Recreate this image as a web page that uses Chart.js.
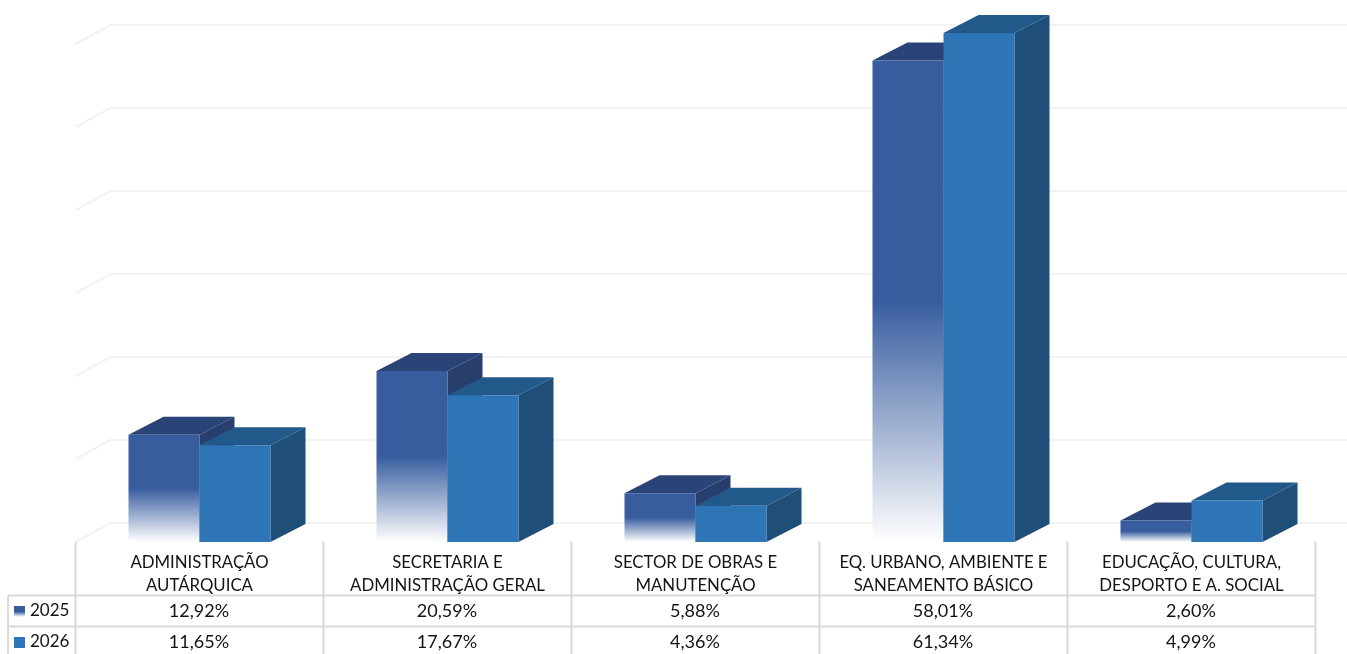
<!DOCTYPE html>
<html>
<head>
<meta charset="utf-8">
<title>Chart</title>
<script src="https://cdn.jsdelivr.net/npm/chart.js@4"></script>
<style>
    body { margin: 0; background: #fff; }
    canvas { display: block; }
</style>
</head>
<body>
<canvas id="budgetChart" width="1347" height="654"></canvas>
<script>
// Chart data
const categories = [
    ['ADMINISTRAÇÃO', 'AUTÁRQUICA'],
    ['SECRETARIA E', 'ADMINISTRAÇÃO GERAL'],
    ['SECTOR DE OBRAS E', 'MANUTENÇÃO'],
    ['EQ. URBANO, AMBIENTE E', 'SANEAMENTO BÁSICO'],
    ['EDUCAÇÃO, CULTURA,', 'DESPORTO E A. SOCIAL']
];
const values2025 = [12.92, 20.59, 5.88, 58.01, 2.60];
const values2026 = [11.65, 17.67, 4.36, 61.34, 4.99];
const seriesNames = ['2025', '2026'];

const FONT = 'Lato, "Noto Sans", sans-serif';
const TEXT_COLOR = '#141414';
const LINE_COLOR = '#d9d9d9';
const GRID_COLOR = '#f2f2f2';
const DEPTH_X = 35;  // 3D offset of the back plane
const DEPTH_Y = -18;
const GRID_DEPTH_Y = -19;
const FADE_START = 0.5;
const COLORS = [
    { front: '#385d9f', top: '#2b4478', side: '#283f6e' },
    { front: '#2e75b6', top: '#22598b', side: '#1f4e79' }
];

// 2025 bars fade out to white over the lower half
function fadeFill(context) {
    const chart = context.chart;
    if (!chart.chartArea || context.raw === undefined) return COLORS[0].front;
    const top = chart.scales.y.getPixelForValue(context.raw);
    const bottom = chart.scales.y.getPixelForValue(0);
    const gradient = chart.ctx.createLinearGradient(0, top, 0, bottom);
    gradient.addColorStop(0, COLORS[0].front);
    gradient.addColorStop(FADE_START, COLORS[0].front);
    gradient.addColorStop(1, '#ffffff');
    return gradient;
}

function polygon(ctx, points, color) {
    ctx.fillStyle = color;
    ctx.beginPath();
    points.forEach((p, i) => i ? ctx.lineTo(p[0], p[1]) : ctx.moveTo(p[0], p[1]));
    ctx.closePath();
    ctx.fill();
}

// Back wall gridlines with their short diagonals on the left side
const wallGrid = {
    id: 'wallGrid',
    beforeDatasetsDraw(chart) {
        const { ctx, scales: { y }, chartArea, width } = chart;
        ctx.save();
        ctx.strokeStyle = GRID_COLOR;
        ctx.lineWidth = 2;
        y.ticks.forEach(tick => {
            const py = y.getPixelForValue(tick.value);
            ctx.beginPath();
            ctx.moveTo(chartArea.left, py);
            ctx.lineTo(chartArea.left + DEPTH_X, py + GRID_DEPTH_Y);
            ctx.lineTo(width, py + GRID_DEPTH_Y);
            ctx.stroke();
        });
        ctx.restore();
    }
};

// Bars are painted series by series so 2026 sits in front of the 2025 side faces.
// Chart.js would paint the first dataset last, so its own pass is cancelled.
const barFaces = {
    id: 'barFaces',
    beforeDatasetDraw() {
        return false;
    },
    afterDatasetsDraw(chart) {
        const { ctx } = chart;
        seriesNames.forEach((name, index) => {
            const meta = chart.getDatasetMeta(index);
            const colors = COLORS[index];
            meta.data.forEach(bar => {
                const { x, y, base, width } = bar.getProps(['x', 'y', 'base', 'width'], true);
                const left = x - width / 2;
                const right = x + width / 2;
                polygon(ctx, [[left, y], [left + DEPTH_X, y + DEPTH_Y], [right + DEPTH_X, y + DEPTH_Y], [right, y]], colors.top);
                polygon(ctx, [[right, y], [right + DEPTH_X, y + DEPTH_Y], [right + DEPTH_X, base + DEPTH_Y], [right, base]], colors.side);
            });
            meta.controller.draw();
        });
    }
};

// Data table under the chart, columns follow the category scale
const dataTable = {
    id: 'dataTable',
    afterDraw(chart) {
        const { ctx, scales: { x }, chartArea, height } = chart;
        const rowTops = [595.5, 626.5];
        const tableLeft = 8;
        const step = x.getPixelForTick(1) - x.getPixelForTick(0);
        const series = [values2025, values2026];

        ctx.save();
        ctx.strokeStyle = LINE_COLOR;
        ctx.lineWidth = 2;
        for (let i = 0; i <= categories.length; i++) {
            const px = chartArea.left + i * step;
            ctx.beginPath();
            ctx.moveTo(px, chartArea.bottom);
            ctx.lineTo(px, height);
            ctx.stroke();
        }
        rowTops.forEach(top => {
            ctx.beginPath();
            ctx.moveTo(tableLeft, top);
            ctx.lineTo(chartArea.right, top);
            ctx.moveTo(tableLeft, top);
            ctx.lineTo(tableLeft, Math.min(top + 31, height));
            ctx.stroke();
        });

        ctx.fillStyle = TEXT_COLOR;
        ctx.textBaseline = 'middle';
        series.forEach((values, row) => {
            const midY = rowTops[row] + 15.5;
            ctx.font = '18px ' + FONT;
            ctx.textAlign = 'center';
            values.forEach((value, i) => {
                ctx.fillText(value.toFixed(2).replace('.', ',') + '%', x.getPixelForTick(i) - 0.5, midY);
            });
            ctx.font = '17px ' + FONT;
            ctx.textAlign = 'left';
            ctx.fillText(seriesNames[row], 30, midY);

            let swatch = COLORS[row].front;
            if (row === 0) {
                swatch = ctx.createLinearGradient(0, midY - 5, 0, midY + 6);
                swatch.addColorStop(0, COLORS[0].front);
                swatch.addColorStop(FADE_START, COLORS[0].front);
                swatch.addColorStop(1, '#ffffff');
            }
            ctx.fillStyle = swatch;
            ctx.fillRect(14, midY - 5, 11, 11);
            ctx.fillStyle = TEXT_COLOR;
        });
        ctx.restore();
    }
};

new Chart(document.getElementById('budgetChart'), {
    type: 'bar',
    data: {
        labels: categories,
        datasets: [
            { label: seriesNames[0], data: values2025, backgroundColor: fadeFill },
            { label: seriesNames[1], data: values2026, backgroundColor: COLORS[1].front }
        ]
    },
    options: {
        responsive: false,
        animation: false,
        categoryPercentage: 0.5726,
        barPercentage: 1,
        layout: { padding: { left: 75.5, right: 31.5, top: 2.5, bottom: 0 } },
        plugins: { legend: { display: false }, tooltip: { enabled: false } },
        scales: {
            x: {
                grid: { display: false },
                border: { display: false },
                ticks: {
                    color: TEXT_COLOR,
                    font: { family: FONT, size: 16.8, lineHeight: 1.37 },
                    padding: 1,
                    maxRotation: 0,
                    autoSkip: false
                },
                afterFit(scale) { scale.height = 112; }
            },
            y: {
                min: 0,
                max: 65,
                grid: { display: false },
                border: { display: false },
                ticks: { display: false, stepSize: 10 },
                afterBuildTicks(scale) { scale.ticks = scale.ticks.filter(t => t.value % 10 === 0); },
                afterFit(scale) { scale.width = 0; }
            }
        }
    },
    plugins: [wallGrid, barFaces, dataTable]
});
</script>
</body>
</html>
